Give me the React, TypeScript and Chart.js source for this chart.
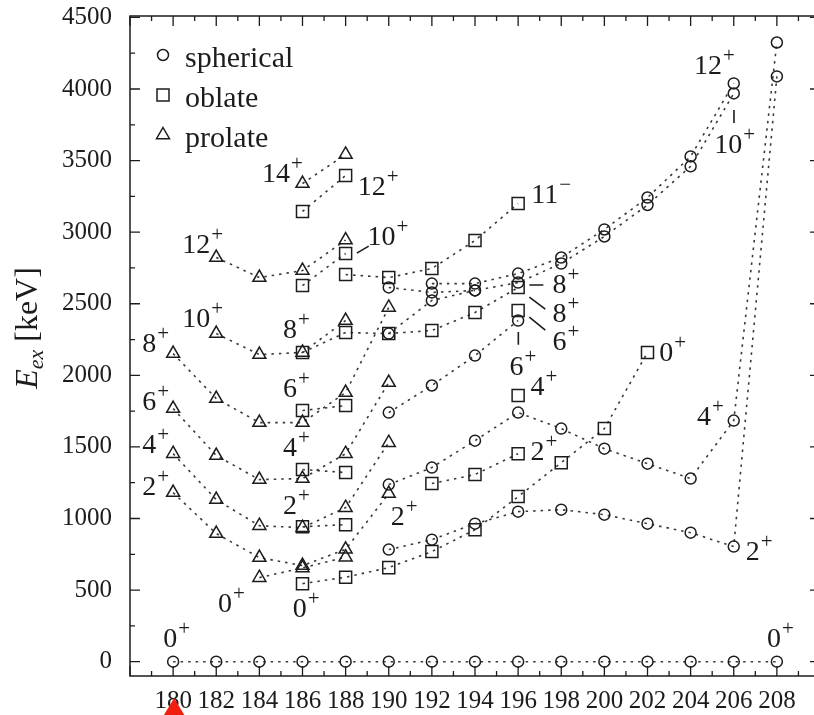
import React, { useEffect, useRef } from "react";
import { Chart, registerables } from "chart.js";

Chart.register(...registerables);

// ---------- data ----------
const isotopes = [180, 182, 184, 186, 188, 190, 192, 194, 196, 198, 200, 202, 204, 206, 208];
const N = null;

// spherical (circles)
const sph0 = [0, 0, 0, 0, 0, 0, 0, 0, 0, 0, 0, 0, 0, 0, 0];
const sph2 = [N, N, N, N, N, 783, 852, 964, 1048, 1062, 1027, 964, 901, 804, 4088];
const sph4 = [N, N, N, N, N, 1237, 1356, 1544, 1740, 1628, 1488, 1383, 1279, 1684, 4325];
const sph6 = [N, N, N, N, N, 1740, 1929, 2138, 2383, N, N, N, N, N, N];
const sph8 = [N, N, N, N, N, 2292, 2523, 2593, N, N, N, N, N, N, N];
const sph10 = [N, N, N, N, N, 2614, 2579, 2593, 2648, 2781, 2970, 3190, 3460, 3969, N];
const sph12 = [N, N, N, N, N, N, 2641, 2641, 2711, 2823, 3019, 3242, 3529, 4039, N];

// oblate (squares)
const obl0 = [N, N, N, 545, 590, 657, 769, 922, 1153, 1390, 1628, 2160, N, N, N];
const obl2 = [N, N, N, 943, 957, N, 1244, 1307, 1453, N, N, N, N, N, N];
const obl4 = [N, N, N, 1342, 1321, N, N, N, 1859, N, N, N, N, N, N];
const obl6 = [N, N, N, 1754, 1789, N, N, N, 2453, N, N, N, N, N, N];
const obl8 = [N, N, N, 2160, 2299, 2292, 2313, 2439, 2613, N, N, N, N, N, N];
const obl10 = [N, N, N, 2627, 2851, N, N, N, N, N, N, N, N, N, N];
const obl11 = [N, N, N, N, 2704, 2683, 2746, 2942, 3200, N, N, N, N, N, N];
const obl12 = [N, N, N, 3145, 3396, N, N, N, N, N, N, N, N, N, N];

// prolate (triangles)
const pro0 = [N, N, 587, 655, 730, N, N, N, N, N, N, N, N, N, N];
const pro2 = [1181, 895, 727, 671, 785, 1174, N, N, N, N, N, N, N, N, N];
const pro4 = [1453, 1132, 950, 936, 1076, 1530, N, N, N, N, N, N, N, N, N];
const pro6 = [1768, 1440, 1272, 1279, 1453, 1950, N, N, N, N, N, N, N, N, N];
const pro8 = [2152, 1838, 1670, 1670, 1880, 2474, N, N, N, N, N, N, N, N, N];
const pro10 = [N, 2292, 2145, 2160, 2383, N, N, N, N, N, N, N, N, N, N];
const pro12 = [N, 2823, 2683, 2732, 2945, N, N, N, N, N, N, N, N, N, N];
const pro14 = [N, N, N, 3340, 3543, N, N, N, N, N, N, N, N, N, N];

const yTicks = [0, 500, 1000, 1500, 2000, 2500, 3000, 3500, 4000, 4500];
const legendNames = ["spherical", "oblate", "prolate"];

// spin labels: main text, superscript, anchor (A, E) = baseline-left
const labelMain = ["14", "12", "10", "12", "10", "8", "8", "6", "6", "4", "4", "2", "2", "2", "0", "0", "0", "0", "2", "4", "0", "2", "4", "6", "6", "8", "8", "11", "12", "10"];
const labelSup = ["+", "+", "+", "+", "+", "+", "+", "+", "+", "+", "+", "+", "+", "+", "+", "+", "+", "+", "+", "+", "+", "+", "+", "+", "+", "+", "+", "\u2212", "+", "+"];
const labelA = [184.12, 188.56, 189.02, 180.42, 180.42, 178.57, 185.09, 178.57, 185.09, 178.57, 185.09, 178.57, 185.09, 190.09, 182.08, 185.55, 179.54, 207.54, 206.56, 204.3, 202.54, 196.57, 196.57, 195.6, 197.59, 197.59, 197.59, 196.61, 204.16, 205.09];
const labelE = [3351, 3259, 2910, 2855, 2338, 2164, 2261, 1759, 1849, 1458, 1437, 1165, 1031, 955, 347, 312, 103, 103, 710, 1653, 2101, 1409, 1863, 2003, 2178, 2373, 2575, 3204, 4105, 3553];

// pointer strokes next to some labels
const ptrA1 = [188.52, 196.01, 196.52, 196.52, 196.52, 206.01];
const ptrE1 = [2854, 2303, 2407, 2547, 2631, 3853];
const ptrA2 = [189.07, 196.01, 197.26, 197.26, 197.17, 206.01];
const ptrE2 = [2903, 2213, 2316, 2463, 2631, 3763];

// ---------- style ----------
const FONT = '"Liberation Serif", "Times New Roman", serif';
const INK = "#1c1c1c";
const LINE = "#3a3a3a";

type Shape = "circle" | "rect" | "triangle";
const series: { vals: (number | null)[]; shape: Shape }[] = [
  { vals: sph0, shape: "circle" },
  { vals: sph2, shape: "circle" },
  { vals: sph4, shape: "circle" },
  { vals: sph6, shape: "circle" },
  { vals: sph8, shape: "circle" },
  { vals: sph10, shape: "circle" },
  { vals: sph12, shape: "circle" },
  { vals: obl0, shape: "rect" },
  { vals: obl2, shape: "rect" },
  { vals: obl4, shape: "rect" },
  { vals: obl6, shape: "rect" },
  { vals: obl8, shape: "rect" },
  { vals: obl10, shape: "rect" },
  { vals: obl11, shape: "rect" },
  { vals: obl12, shape: "rect" },
  { vals: pro0, shape: "triangle" },
  { vals: pro2, shape: "triangle" },
  { vals: pro4, shape: "triangle" },
  { vals: pro6, shape: "triangle" },
  { vals: pro8, shape: "triangle" },
  { vals: pro10, shape: "triangle" },
  { vals: pro12, shape: "triangle" },
  { vals: pro14, shape: "triangle" },
];

const radiusFor: Record<Shape, number> = { circle: 5.5, rect: 8.5, triangle: 7.5 };

function drawMarker(ctx: CanvasRenderingContext2D, shape: Shape, x: number, y: number) {
  ctx.beginPath();
  if (shape === "circle") {
    ctx.arc(x, y, 5.5, 0, Math.PI * 2);
  } else if (shape === "rect") {
    ctx.rect(x - 6, y - 6, 12, 12);
  } else {
    const r = 7.5;
    ctx.moveTo(x, y - r);
    ctx.lineTo(x + r * 0.866, y + r * 0.5);
    ctx.lineTo(x - r * 0.866, y + r * 0.5);
    ctx.closePath();
  }
  ctx.stroke();
}

const overlay = {
  id: "overlay",
  afterDatasetsDraw(chart: any) {
    const ctx: CanvasRenderingContext2D = chart.ctx;
    const { left, right, top, bottom } = chart.chartArea;
    const xs = chart.scales.x;
    const ys = chart.scales.y;
    ctx.save();

    // frame
    ctx.strokeStyle = INK;
    ctx.lineWidth = 1.5;
    ctx.strokeRect(left, top, right - left, bottom - top);

    // inward ticks
    ctx.lineWidth = 1.3;
    ctx.beginPath();
    for (let a = 178; a <= 210; a += 1) {
      const px = xs.getPixelForValue(a);
      const len = a % 2 === 0 ? 10 : 5;
      ctx.moveTo(px, bottom);
      ctx.lineTo(px, bottom - len);
      ctx.moveTo(px, top);
      ctx.lineTo(px, top + len);
    }
    for (let e = 0; e <= 4500; e += 250) {
      const py = ys.getPixelForValue(e);
      const len = e % 500 === 0 ? 10 : 5;
      ctx.moveTo(left, py);
      ctx.lineTo(left + len, py);
      ctx.moveTo(right, py);
      ctx.lineTo(right - len, py);
    }
    ctx.stroke();

    // spin labels
    ctx.fillStyle = INK;
    ctx.textBaseline = "alphabetic";
    ctx.textAlign = "left";
    for (let i = 0; i < labelMain.length; i++) {
      const px = xs.getPixelForValue(labelA[i]);
      const py = ys.getPixelForValue(labelE[i]);
      ctx.font = `28px ${FONT}`;
      ctx.fillText(labelMain[i], px, py);
      const w = ctx.measureText(labelMain[i]).width;
      ctx.font = `21px ${FONT}`;
      ctx.fillText(labelSup[i], px + w + 1, py - 12);
    }

    // pointer strokes
    ctx.strokeStyle = INK;
    ctx.lineWidth = 1.6;
    ctx.beginPath();
    for (let i = 0; i < ptrA1.length; i++) {
      ctx.moveTo(xs.getPixelForValue(ptrA1[i]), ys.getPixelForValue(ptrE1[i]));
      ctx.lineTo(xs.getPixelForValue(ptrA2[i]), ys.getPixelForValue(ptrE2[i]));
    }
    ctx.stroke();

    // legend
    const shapes: Shape[] = ["circle", "rect", "triangle"];
    ctx.lineWidth = 1.5;
    ctx.font = `30px ${FONT}`;
    for (let i = 0; i < legendNames.length; i++) {
      const my = top + 39 + i * 40;
      drawMarker(ctx, shapes[i], left + 33, my);
      ctx.fillText(legendNames[i], left + 55, my + 12);
    }

    // y-axis title: E_ex [keV]
    ctx.save();
    ctx.translate(37, 328);
    ctx.rotate(-Math.PI / 2);
    ctx.font = `italic 32px ${FONT}`;
    const wE = ctx.measureText("E").width;
    ctx.font = `italic 22px ${FONT}`;
    const wSub = ctx.measureText("ex").width;
    ctx.font = `32px ${FONT}`;
    const wRest = ctx.measureText(" [keV]").width;
    const total = wE + wSub + wRest;
    let cx = -total / 2;
    ctx.font = `italic 32px ${FONT}`;
    ctx.fillText("E", cx, 0);
    cx += wE;
    ctx.font = `italic 22px ${FONT}`;
    ctx.fillText("ex", cx, 6);
    cx += wSub;
    ctx.font = `32px ${FONT}`;
    ctx.fillText(" [keV]", cx, 0);
    ctx.restore();

    // red marker under the first isotope
    const rx = xs.getPixelForValue(isotopes[0]) + 1;
    ctx.fillStyle = "#f01e0e";
    ctx.beginPath();
    ctx.moveTo(rx, 698);
    ctx.lineTo(rx + 12, 718);
    ctx.lineTo(rx - 12, 718);
    ctx.closePath();
    ctx.fill();

    ctx.restore();
  },
};

export default function App() {
  const ref = useRef<HTMLCanvasElement | null>(null);
  useEffect(() => {
    document.body.style.margin = "0";
    const canvas = ref.current;
    if (!canvas) return;
    const datasets = series.map((s) => ({
      data: isotopes.map((a, i) => ({ x: a, y: s.vals[i] })),
      showLine: true,
      spanGaps: false,
      borderColor: LINE,
      borderWidth: 1.6,
      borderDash: [2.5, 5],
      pointStyle: s.shape,
      pointRadius: radiusFor[s.shape],
      pointBorderWidth: 1.5,
      pointBorderColor: INK,
      pointBackgroundColor: "rgba(0,0,0,0)",
      fill: false,
    }));
    const chart = new Chart(canvas, {
      type: "scatter",
      data: { datasets } as any,
      options: {
        animation: false,
        responsive: false,
        events: [],
        layout: { padding: { top: 16, right: 9, left: 0, bottom: 0 } },
        plugins: { legend: { display: false }, tooltip: { enabled: false } },
        scales: {
          x: {
            type: "linear",
            min: 178,
            max: 210,
            afterFit: (s: any) => {
              s.height = 39;
              s.paddingLeft = 0;
              s.paddingRight = 0;
            },
            afterBuildTicks: (s: any) => {
              s.ticks = isotopes.map((v) => ({ value: v }));
            },
            grid: { display: false, drawTicks: false },
            border: { display: false },
            ticks: {
              font: { family: FONT, size: 25 },
              color: INK,
              padding: 10,
              maxRotation: 0,
              autoSkip: false,
              callback: (v: any) => String(v),
            },
          },
          y: {
            type: "linear",
            min: -100,
            max: 4510,
            afterFit: (s: any) => {
              s.width = 130;
              s.paddingTop = 0;
              s.paddingBottom = 0;
            },
            afterBuildTicks: (s: any) => {
              s.ticks = yTicks.map((v) => ({ value: v }));
            },
            grid: { display: false, drawTicks: false },
            border: { display: false },
            ticks: {
              font: { family: FONT, size: 25 },
              color: INK,
              padding: 18,
              callback: (v: any) => String(v),
            },
          },
        },
      },
      plugins: [overlay],
    } as any);
    return () => chart.destroy();
  }, []);
  return (
    <div style={{ width: 814, height: 715, overflow: "hidden", position: "relative" }}>
      <canvas ref={ref} width={830} height={715} style={{ width: 830, height: 715, display: "block" }} />
    </div>
  );
}
